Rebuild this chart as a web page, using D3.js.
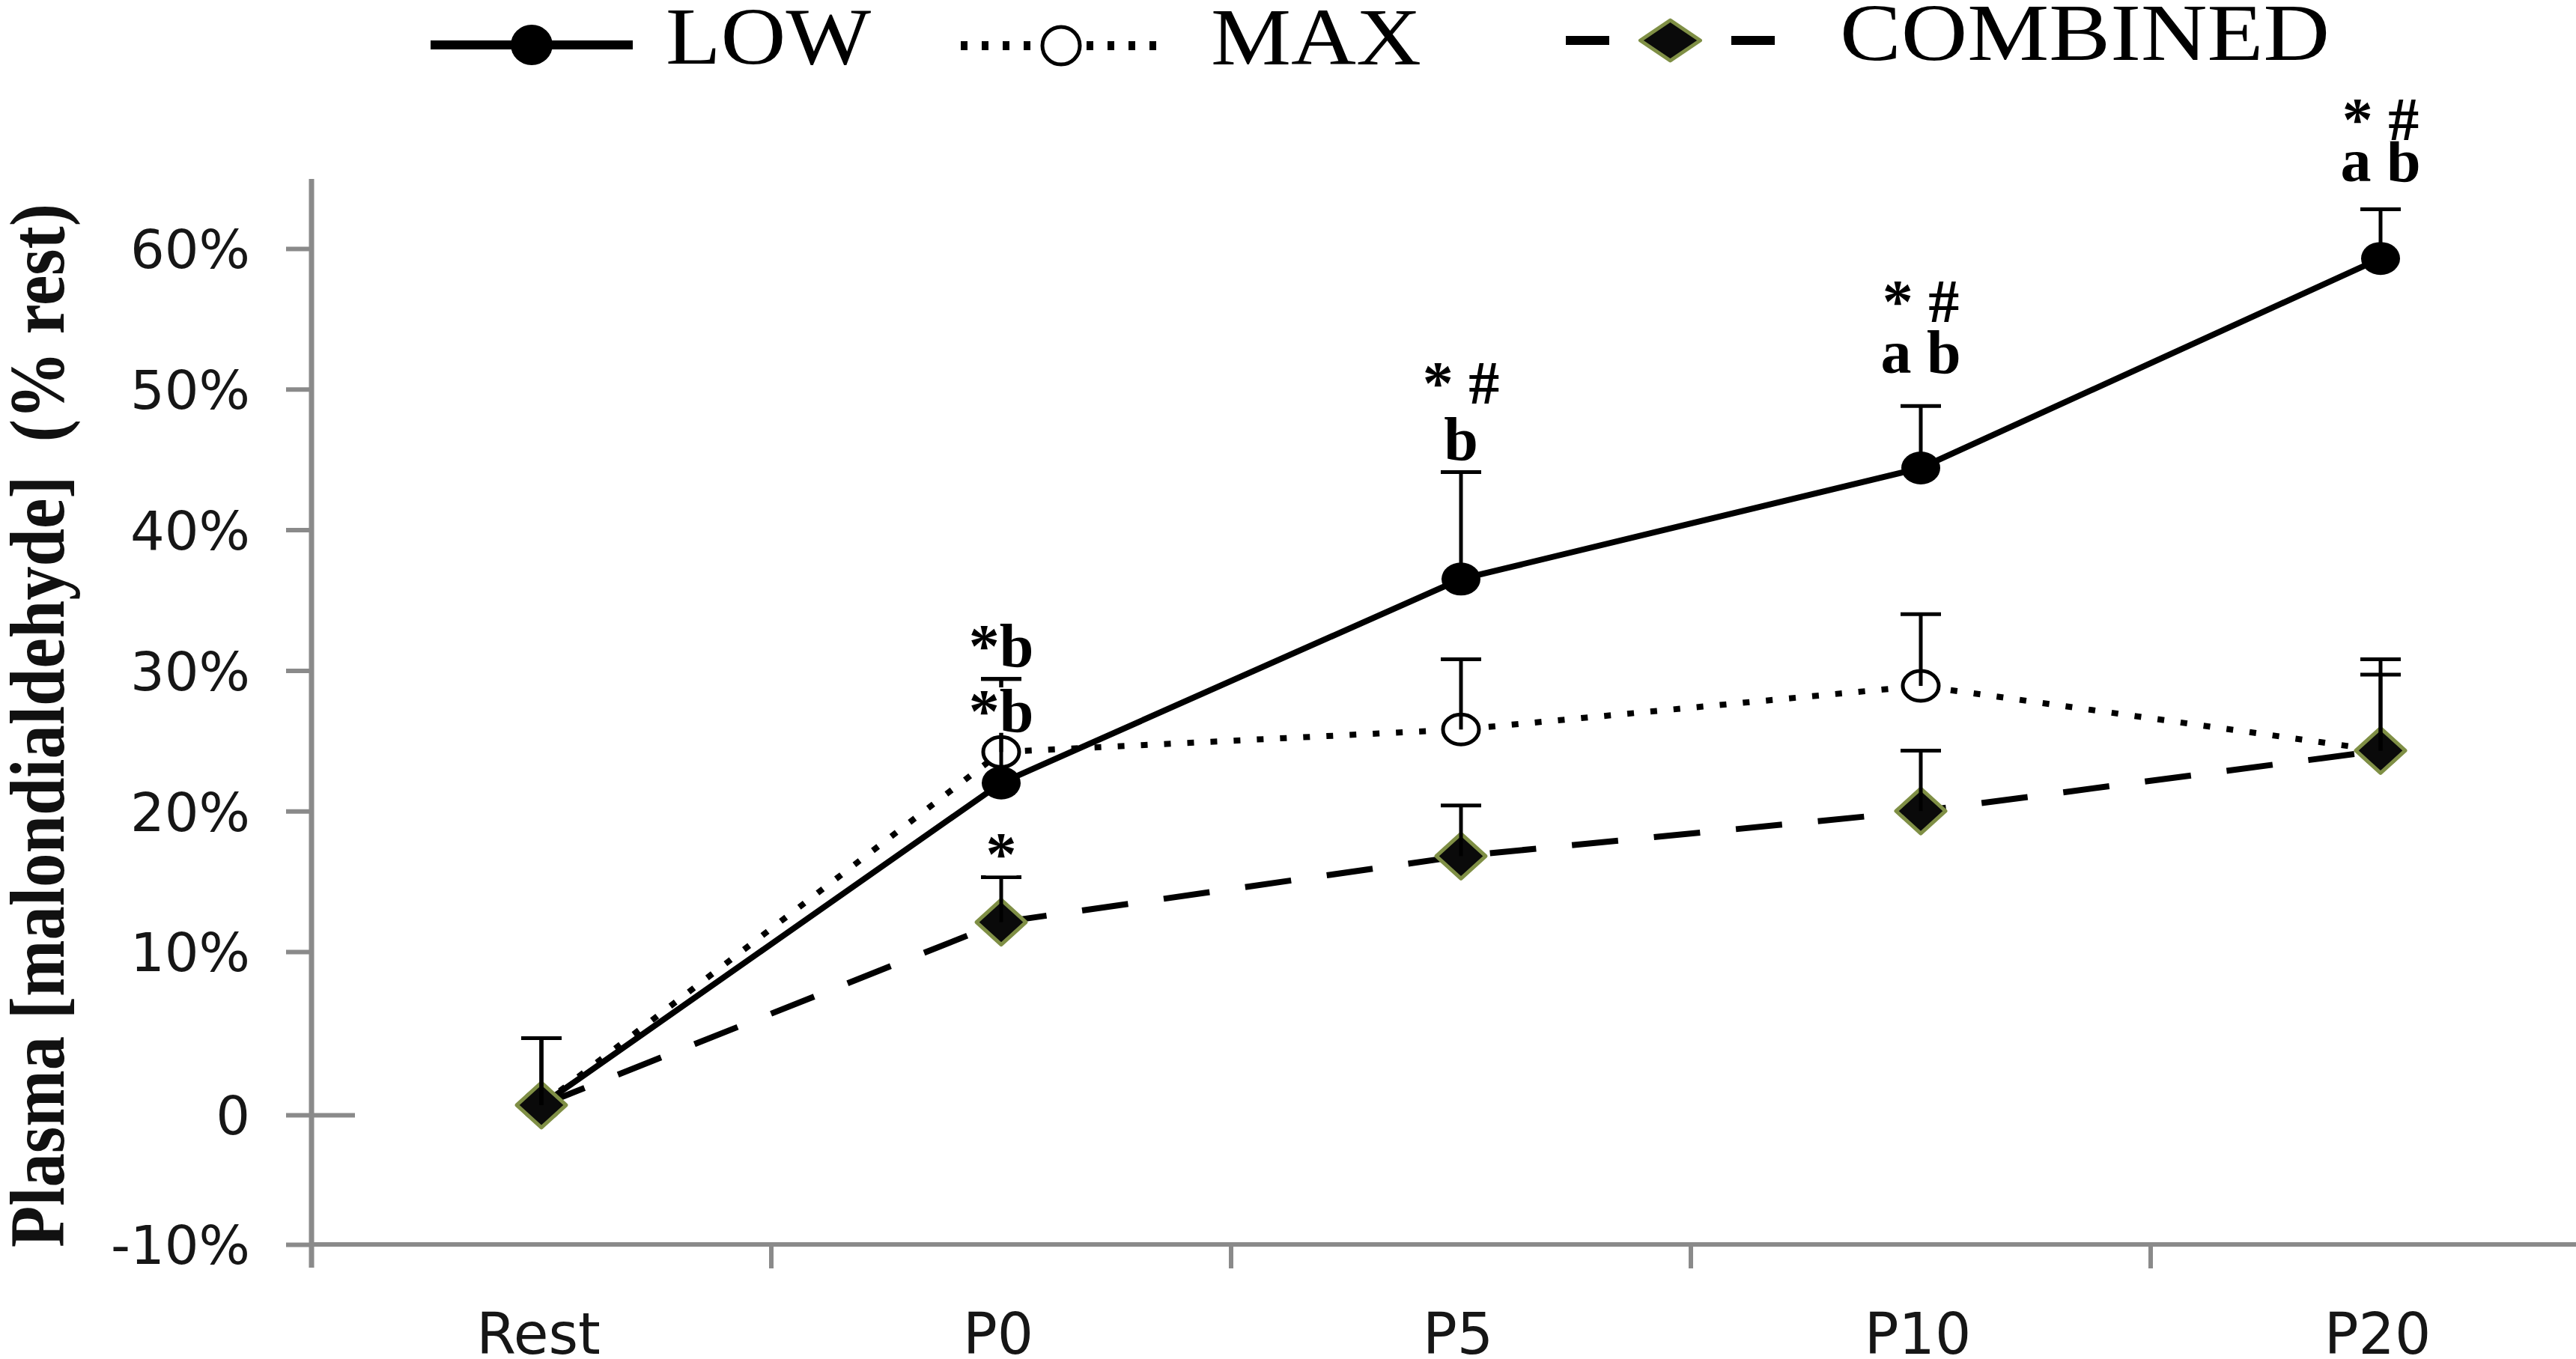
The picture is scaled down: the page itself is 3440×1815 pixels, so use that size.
<!DOCTYPE html>
<html>
<head>
<meta charset="utf-8">
<script src="https://cdn.jsdelivr.net/npm/d3@7"></script>
<style>
  html, body { margin: 0; padding: 0; background: #fff; }
  svg { display: block; }
</style>
</head>
<body>
<script>
// ---------------- data ----------------
const categories = ["Rest", "P0", "P5", "P10", "P20"];
const seriesNames = ["LOW", "MAX", "COMBINED"];
const lowValues = [0.6, 22.0, 36.5, 44.4, 59.3];
const lowErrors = [4.1, 7.4, 7.6, 4.4, 3.5];
const maxValues = [0.6, 24.2, 25.8, 28.9, 24.3];
const maxErrors = [4.1, 5.2, 5.0, 5.1, 6.5];
const combinedValues = [0.6, 12.1, 16.8, 20.0, 24.3];
const combinedErrors = [4.1, 3.2, 3.6, 4.3, 5.4];
const yTickValues = [-10, 0, 10, 20, 30, 40, 50, 60];
const yTickLabels = ["-10%", "0", "10%", "20%", "30%", "40%", "50%", "60%"];
const yAxisTitle = "Plasma [malondialdehyde]  (% rest)";
// significance marks: category, text, value level of the text baseline
const annotationCats = ["P0", "P0", "P0", "P5", "P5", "P10", "P10", "P20", "P20"];
const annotationTexts = ["*b", "*b", "*", "* #", "b", "* #", "a b", "a b", "* #"];
const annotationLevels = [30.3, 25.65, 15.5, 48.98, 44.98, 54.78, 51.16, 64.79, 67.72];

// ---------------- layout ----------------
const W = 3440, H = 1815;
const svg = d3.select("body").append("svg").attr("width", W).attr("height", H)
  .style("background", "#fff");

const x = d3.scaleBand().domain(categories).range([416, 3486]).paddingInner(0).paddingOuter(0);
const y = d3.scaleLinear().domain([-10, 0, 10, 60]).range([1662, 1489, 1271, 332]);
const cx = c => x(c) + x.bandwidth() / 2;
const axisGray = "#8a8a8a";

// y axis
const yAxis = d3.axisLeft(y).tickValues(yTickValues)
  .tickFormat((d, i) => yTickLabels[i]).tickSize(34).tickPadding(48).tickSizeOuter(0);
const gy = svg.append("g").attr("transform", "translate(416,0)").call(yAxis);
gy.select(".domain").remove();
gy.selectAll(".tick line").attr("stroke", axisGray).attr("stroke-width", 6);
gy.selectAll(".tick").filter(d => d === 0).select("line").attr("x1", 58);
gy.selectAll(".tick text").attr("font-family", "'DejaVu Sans', Verdana, sans-serif")
  .attr("font-size", 72).attr("fill", "#161616").attr("dy", "0.36em");
svg.append("line").attr("x1", 416).attr("x2", 416).attr("y1", 239).attr("y2", 1693)
  .attr("stroke", axisGray).attr("stroke-width", 7);

// x axis
svg.append("line").attr("x1", 413).attr("x2", W).attr("y1", y(-10)).attr("y2", y(-10))
  .attr("stroke", axisGray).attr("stroke-width", 6);
const boundaries = categories.map(c => x(c)).concat([x.range()[1]]);
svg.append("g").selectAll("line").data(boundaries.slice(1)).join("line")
  .attr("x1", d => d).attr("x2", d => d).attr("y1", y(-10)).attr("y2", y(-10) + 32)
  .attr("stroke", axisGray).attr("stroke-width", 6);
const xAxis = d3.axisBottom(x).tickSize(0).tickPadding(92).tickSizeOuter(0);
const gx = svg.append("g").attr("transform", `translate(0,${y(-10)})`).call(xAxis);
gx.select(".domain").remove();
gx.selectAll(".tick text").attr("font-family", "'DejaVu Sans', Verdana, sans-serif")
  .attr("font-size", 76).attr("fill", "#161616").attr("dx", -4);

// y axis title
svg.append("text")
  .attr("transform", "translate(85,969) rotate(-90)")
  .attr("text-anchor", "middle")
  .attr("font-family", "'Liberation Serif', 'Times New Roman', serif")
  .attr("font-weight", "bold").attr("font-size", 104)
  .attr("textLength", 1394).attr("lengthAdjust", "spacingAndGlyphs")
  .style("white-space", "pre")
  .attr("fill", "#111")
  .text(yAxisTitle);

// ---------------- series ----------------
const mk = (vals, errs) => categories.map((c, i) => ({ cat: c, v: vals[i], e: errs[i] }));
const series = [
  { name: seriesNames[1], data: mk(maxValues, maxErrors), dash: "9,22", type: "open" },
  { name: seriesNames[0], data: mk(lowValues, lowErrors), dash: null, type: "filled" },
  { name: seriesNames[2], data: mk(combinedValues, combinedErrors), dash: "62,48", type: "diamond" }
];
const line = d3.line().x(d => cx(d.cat)).y(d => y(d.v));
const diamondPath = (hw, hh) => `M0,${-hh}L${hw},0L0,${hh}L${-hw},0Z`;

function drawMarker(g, type, big) {
  if (type === "filled") {
    g.append("ellipse").attr("rx", big ? 28 : 26).attr("ry", big ? 27 : 22).attr("fill", "#000");
  } else if (type === "open") {
    g.append("ellipse").attr("rx", big ? 25 : 24).attr("ry", big ? 25 : 20)
      .attr("fill", "#fff").attr("stroke", "#000").attr("stroke-width", 5);
  } else {
    g.append("path").attr("d", big ? diamondPath(40, 27) : diamondPath(33, 30))
      .attr("fill", "#0a0a0a").attr("stroke", "#7f8f45").attr("stroke-width", 5)
      .attr("stroke-linejoin", "round");
  }
}

series.forEach(s => {
  svg.append("path").datum(s.data).attr("d", line).attr("fill", "none")
    .attr("stroke", "#000").attr("stroke-width", s.type === "filled" ? 8 : 8)
    .attr("stroke-dasharray", s.dash);
  s.data.forEach(d => {
    const g = svg.append("g").attr("transform", `translate(${cx(d.cat)},${y(d.v)})`);
    drawMarker(g, s.type, false);
  });
});

// error bars (upper only)
series.forEach(s => {
  s.data.forEach(d => {
    const xc = cx(d.cat), top = y(d.v + d.e);
    svg.append("line").attr("x1", xc).attr("x2", xc).attr("y1", y(d.v)).attr("y2", top)
      .attr("stroke", "#000").attr("stroke-width", 5);
    svg.append("line").attr("x1", xc - 27).attr("x2", xc + 27).attr("y1", top).attr("y2", top)
      .attr("stroke", "#000").attr("stroke-width", 5);
  });
});

// annotations
const fsA = 82;
annotationTexts.forEach((t, i) => {
  const xc = cx(annotationCats[i]);
  const yb = y(annotationLevels[i]);
  const g = svg.append("g");
  const bg = g.append("rect").attr("fill", "#fff");
  const txt = g.append("text").attr("x", xc).attr("y", yb).attr("text-anchor", "middle")
    .attr("font-family", "'Liberation Serif', 'Times New Roman', serif")
    .attr("font-weight", "bold").attr("font-size", fsA).attr("fill", "#000")
    .style("white-space", "pre").text(t);
  const bb = txt.node().getBBox();
  bg.attr("x", bb.x).attr("width", bb.width).attr("y", yb - 0.72 * fsA).attr("height", 0.74 * fsA);
});

// ---------------- legend ----------------
const legendLines = [[575, 845, 60], [1283, 1551, 61], [2091, 2370, 54]];
const legendText = [[889, 85, 274], [1617, 86, 281], [2457, 80, 654]];
const legendDash = [null, "9,19", "58,163"];
const legendType = ["filled", "open", "diamond"];
seriesNames.forEach((n, i) => {
  const [x1, x2, ly] = legendLines[i];
  svg.append("line").attr("x1", x1).attr("x2", x2).attr("y1", ly).attr("y2", ly)
    .attr("stroke", "#000").attr("stroke-width", 12).attr("stroke-dasharray", legendDash[i]);
  const g = svg.append("g").attr("transform", `translate(${(x1 + x2) / 2},${ly})`);
  drawMarker(g, legendType[i], true);
  const [tx, tb, tl] = legendText[i];
  svg.append("text").attr("x", tx).attr("y", tb)
    .attr("font-family", "'Liberation Serif', 'Times New Roman', serif")
    .attr("font-size", 109).attr("fill", "#000")
    .attr("textLength", tl).attr("lengthAdjust", "spacingAndGlyphs")
    .text(n);
});
</script>
</body>
</html>
